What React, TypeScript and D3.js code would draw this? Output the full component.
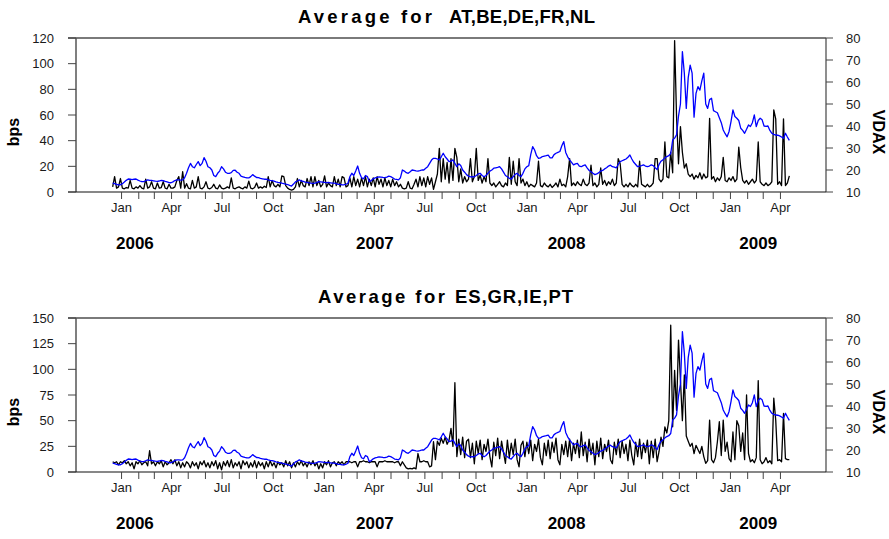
import React from "react";
import * as d3 from "d3";

// ---- data (half-weekly samples starting 2005-12-16) ----
const SERIES_START = "2005-12-16";
const STEP_DAYS = 3.5;

const VDAX = [
  14.0, 13.8, 13.5, 13.2, 13.3, 13.8, 14.5, 15.3, 15.9, 15.8,
  15.6, 15.8, 15.9, 15.4, 15.0, 14.7, 14.7, 15.1, 15.5, 15.3,
  15.3, 15.1, 14.9, 14.8, 15.0, 15.3, 15.2, 14.8, 14.6, 14.3,
  14.2, 14.6, 15.2, 15.5, 15.5, 15.4, 15.5, 16.5, 18.5, 21.0,
  23.0, 21.5, 21.0, 22.5, 23.8, 22.0, 23.0, 25.6, 24.0, 21.5,
  21.0, 20.0, 17.5, 17.0, 18.5, 19.5, 21.5, 20.5, 19.0, 18.5,
  18.5, 18.8, 19.8, 19.9, 19.0, 18.5, 17.2, 16.9, 16.6, 16.4,
  16.4, 17.0, 17.9, 17.2, 16.6, 16.5, 16.2, 16.0, 15.8, 15.8,
  15.5, 15.3, 15.2, 14.9, 14.6, 14.4, 14.3, 14.0, 13.8, 13.6,
  13.4, 13.0, 12.7, 13.6, 14.6, 15.0, 15.5, 15.0, 14.8, 14.5,
  14.4, 14.2, 14.0, 13.9, 14.0, 14.3, 14.7, 14.6, 14.5, 14.4,
  14.3, 14.4, 14.2, 14.0, 14.0, 13.8, 13.5, 13.5, 13.2, 13.3,
  13.5, 14.0, 17.0, 18.5, 17.5, 19.5, 21.8, 18.5, 16.5, 16.0,
  17.5, 17.0, 14.7, 15.2, 16.0, 16.4, 16.6, 16.9, 16.8, 16.6,
  16.5, 16.8, 17.2, 17.0, 16.5, 15.9, 15.7, 15.5, 16.5, 20.0,
  19.5, 18.8, 18.5, 19.2, 20.0, 19.8, 19.6, 19.5, 19.7, 20.0,
  20.0, 20.8, 21.5, 23.0, 24.5, 25.3, 25.3, 25.0, 24.6, 26.0,
  27.6, 26.0, 25.0, 23.8, 24.0, 24.6, 23.0, 21.5, 22.8, 22.0,
  20.0, 19.0, 17.9, 17.2, 16.9, 17.0, 16.9, 17.5, 18.2, 18.5,
  17.5, 16.9, 17.5, 18.5, 19.5, 20.0, 20.8, 21.0, 21.2, 21.5,
  20.5, 19.0, 17.5, 16.9, 16.2, 15.9, 17.0, 18.0, 18.5, 17.5,
  17.0, 18.5, 20.5, 21.5, 22.0, 27.0, 30.6, 29.1, 26.5, 25.3,
  25.5, 26.1, 26.3, 26.5, 26.8, 25.5, 25.5, 27.0, 27.6, 28.0,
  28.4, 31.0, 32.9, 28.0, 26.0, 24.6, 23.5, 22.3, 22.8, 23.0,
  21.8, 21.5, 22.0, 22.3, 21.0, 19.8, 19.2, 18.5, 17.9, 18.2,
  18.8, 19.5, 19.8, 20.5, 21.0, 21.8, 22.2, 21.5, 21.3, 21.0,
  22.5, 23.8, 24.2, 24.6, 25.0, 25.8, 26.8, 25.0, 23.5, 22.5,
  21.5, 21.8, 22.0, 22.3, 21.8, 21.5, 21.8, 22.3, 22.0, 21.0,
  20.2, 22.5, 24.0, 24.6, 25.5, 26.1, 26.5, 27.5, 33.6, 34.5,
  36.0, 44.5, 50.0, 73.8, 64.0, 48.0, 62.0, 67.7, 64.0, 44.0,
  54.8, 57.9, 56.3, 60.5, 64.0, 50.0, 48.0, 52.0, 52.6, 47.0,
  46.5, 46.0, 43.8, 41.5, 38.2, 36.5, 35.1, 37.5, 42.0, 47.3,
  44.3, 43.5, 42.5, 39.0, 38.0, 36.7, 38.5, 40.5, 39.8, 41.5,
  45.0, 39.7, 42.5, 43.5, 42.8, 40.0, 39.8, 40.0, 38.0, 36.7,
  36.2, 35.9, 35.8, 35.5, 35.0, 34.4, 36.7, 35.0, 33.5,
];

const SPREAD_CORE = [
  4, 12, 3, 4, 10.5, 3, 2.5, 3.5, 3, 9,
  3, 2.5, 4, 3, 5, 3, 2.5, 10, 3, 4,
  8, 3, 2.5, 7, 3, 3.5, 8, 3, 2.5, 6,
  3, 3, 4, 9, 12, 3, 15.8, 3, 6.5, 3,
  2.5, 9, 3, 4, 12, 3, 2.5, 4, 8, 3,
  2.5, 3.5, 6, 3, 2.5, 5.5, 3, 2.5, 3, 4,
  3, 11, 3, 2.5, 3.5, 4, 3, 2.5, 4, 3,
  8.5, 3, 2.5, 3.5, 7, 3, 4, 3, 4.5, 3.5,
  12, 4, 9, 5, 4, 6, 4, 12.5, 12, 5,
  3, 2, 1.5, 2, 4, 10.5, 4, 9, 5, 4,
  10.5, 5, 12, 4, 12, 5, 9, 4, 6, 12.6,
  4, 7, 5, 4, 12, 5, 10, 4, 12, 11,
  4, 5, 11, 4, 12, 5, 10, 4, 11, 5,
  12, 4, 10, 5, 11, 4, 12, 6, 10, 4,
  11, 5, 9, 4, 10, 5, 8, 4, 6, 3,
  2.5, 3, 8, 3, 2.5, 6, 10, 4, 12, 5,
  11, 4, 12, 6, 11, 2, 8, 14, 34, 8,
  26, 10, 23, 7, 26, 9, 34, 27, 8, 18,
  7, 12, 8, 10, 26, 8, 12, 34, 9, 13,
  7, 12, 8, 26, 7, 5, 7, 4, 6, 8,
  5, 4, 7, 5, 27, 6, 24, 8, 5, 26,
  7, 10, 5, 8, 4, 6, 5, 4, 7, 24,
  5, 4, 7, 5, 4, 6, 3.5, 5, 7, 4,
  10, 5, 6, 4, 12, 26, 5, 7, 5, 8,
  6, 5, 10, 6, 5, 7, 21, 5, 7, 4,
  6, 18.7, 6, 9, 5, 8, 6, 10, 5, 7,
  26, 22, 6, 4, 6, 4, 7, 5, 4, 6,
  4, 24, 6, 5, 4, 6, 4, 5, 7, 26,
  26, 10, 8, 10, 39, 12, 11, 31, 15, 118,
  58.7, 22, 51, 31, 18.7, 22, 14, 12, 14, 10,
  13, 11, 15, 10, 14, 11, 12, 57.4, 10, 12,
  8, 11, 9, 12, 27, 9, 8, 11, 9, 12,
  8, 10, 35, 19, 9, 7, 9, 6, 8, 10,
  7, 9, 39, 8, 6, 5, 7, 5, 6, 8,
  64, 57, 6, 8, 5, 57, 5, 7, 12.6,
];

const SPREAD_PERIPHERY = [
  10, 9, 10, 7, 10, 9, 11, 8, 10, 6,
  9, 3, 10, 8, 11, 7, 9, 10, 6, 20.7,
  8, 10, 6, 10, 8, 11, 5, 10, 7, 9,
  12, 8, 12, 6, 10, 4, 9, 5, 10, 8,
  4, 10, 6, 9, 3, 10, 7, 11, 5, 9,
  4, 10, 6, 11, 3, 9, 2, 10, 6, 11,
  5, 12, 4, 9, 6, 10, 3, 11, 7, 10,
  4, 9, 5, 11, 4, 10, 6, 9, 3, 10,
  5, 11, 6, 9, 4, 10, 7, 9, 5, 11,
  6, 10, 4, 9, 5, 10, 7, 11, 6, 9,
  5, 10, 7, 11, 6, 9, 3, 8, 4, 10,
  7, 11, 5, 9, 10, 6, 10, 8, 10, 7,
  10, 10, 10, 9, 10, 10, 5, 10, 10, 11,
  10, 10, 9, 10, 10, 10, 5, 10, 10, 10,
  11, 10, 10, 10, 10, 9, 10, 10, 6, 10,
  7, 4, 3, 3.5, 3, 4, 3, 18, 10, 10,
  11, 10, 10, 5, 6, 29.5, 12, 30, 26, 33,
  28, 34, 27, 31, 42.5, 25, 87, 15, 32, 17,
  34, 14, 30, 32, 14, 28, 8, 30, 18, 31,
  12, 27, 20, 32, 15, 5, 29, 16, 33, 13,
  30, 19, 8.5, 31, 14, 28, 17, 32, 12, 5,
  26, 30, 15, 29, 18, 31, 11, 27, 20, 32,
  14, 7, 28, 16, 31, 13, 29, 19, 33, 12,
  7, 27, 17, 30, 15, 32, 11, 28, 18, 31,
  14, 39, 16, 29, 10, 32, 17, 28, 7, 30,
  15, 33, 13, 27, 20, 31, 12, 8, 29, 17,
  32, 14, 30, 18, 27, 11, 31, 16, 7, 29,
  15, 32, 13, 28, 19, 31, 8, 30, 14, 32,
  10, 20, 34, 25, 44, 38, 50, 143, 44, 99,
  60, 128.5, 89.6, 50, 94.5, 35, 30, 25, 28, 18,
  26, 22, 18, 25, 15, 8.5, 11, 50.6, 12, 9,
  14, 29.5, 49, 16, 50.6, 20, 29, 13, 10, 39,
  12, 50, 45, 20, 38, 12, 75, 18, 10, 12,
  9, 14, 89, 12, 8, 10, 14, 9, 11, 8,
  72, 50.6, 11, 12, 10, 57, 13, 12, 12,
];

const LEFT_TICKS_CORE = [0, 20, 40, 60, 80, 100, 120];
const LEFT_TICKS_PERIPHERY = [0, 25, 50, 75, 100, 125, 150];
const RIGHT_TICKS = [10, 20, 30, 40, 50, 60, 70, 80];
const QUARTER_LABELS: Record<number, string> = { 0: "Jan", 3: "Apr", 6: "Jul", 9: "Oct" };
const YEAR_LABELS: [string, string][] = [
  ["2006", "2006-01-25"],
  ["2007", "2007-04-02"],
  ["2008", "2008-03-12"],
  ["2009", "2009-02-20"],
];
const AXIS_START = "2005-10-11";
const AXIS_END = "2009-06-22";
const FIRST_TICK = "2006-01-01";
const LAST_TICK = "2009-04-02";

const FONT = "'Liberation Sans', Arial, Helvetica, sans-serif";
const TXT = "#1a1a1a";

const parse = (s: string) => new Date(s + "T00:00:00Z");
const dateAt = (i: number) =>
  new Date(parse(SERIES_START).getTime() + i * STEP_DAYS * 86400000);

const x = d3.scaleUtc().domain([parse(AXIS_START), parse(AXIS_END)]).range([76, 826]);
const monthTicks = d3.utcMonth.range(parse(FIRST_TICK), parse(LAST_TICK));

type PanelProps = {
  off: number;
  titleA: [string, number, number];
  titleB: [string, number, number];
  leftTicks: number[];
  spread: number[];
};

function Panel({ off, titleA, titleB, leftTicks, spread }: PanelProps) {
  const top = 38 + off;
  const bottom = 192 + off;
  const yL = d3.scaleLinear().domain([leftTicks[0], leftTicks[leftTicks.length - 1]]).range([bottom, top]);
  const yR = d3.scaleLinear().domain([10, 80]).range([bottom, top]);
  const lineL = d3.line<number>().x((_, i) => x(dateAt(i))).y((d) => yL(d));
  const lineR = d3.line<number>().x((_, i) => x(dateAt(i))).y((d) => yR(d));
  const clipId = `clip${off}`;
  const midY = 132 + off;
  return (
    <g>
      <defs>
        <clipPath id={clipId}>
          <rect x={76} y={top - 2} width={750} height={bottom - top + 3} />
        </clipPath>
      </defs>
      <text x={titleA[1]} y={23 + off} fontFamily={FONT} fontWeight="bold" fontSize={18.5}
        textLength={titleA[2]} lengthAdjust="spacing" fill="#000">{titleA[0]}</text>
      <text x={titleB[1]} y={23 + off} fontFamily={FONT} fontWeight="bold" fontSize={18.5}
        textLength={titleB[2]} lengthAdjust="spacing" fill="#000">{titleB[0]}</text>

      {/* frame */}
      <line x1={68} x2={826} y1={top} y2={top} stroke="#7a7a7a" strokeWidth={2} />
      <line x1={76} x2={76} y1={top} y2={bottom} stroke="#555" strokeWidth={1.5} />
      <line x1={826} x2={826} y1={top} y2={bottom} stroke="#444" strokeWidth={1.2} />
      <line x1={68} x2={826} y1={bottom} y2={bottom} stroke="#111" strokeWidth={1.2} />

      {/* left axis */}
      {leftTicks.map((t) => (
        <g key={"l" + t}>
          <line x1={68} x2={76} y1={yL(t)} y2={yL(t)} stroke="#444" strokeWidth={1} />
          <text x={54} y={yL(t)} dy="0.36em" textAnchor="end" fontFamily={FONT} fontSize={13} fill={TXT}>{t}</text>
        </g>
      ))}
      {/* right axis */}
      {RIGHT_TICKS.map((t) => (
        <g key={"r" + t}>
          <line x1={826} x2={833} y1={yR(t)} y2={yR(t)} stroke="#444" strokeWidth={1} />
          <text x={846} y={yR(t)} dy="0.36em" textAnchor="start" fontFamily={FONT} fontSize={13} fill={TXT}>{t}</text>
        </g>
      ))}
      {/* month ticks */}
      {monthTicks.map((m) => (
        <g key={"m" + m.getTime()}>
          <line x1={x(m)} x2={x(m)} y1={bottom} y2={bottom + 7} stroke="#444" strokeWidth={1} />
          {QUARTER_LABELS[m.getUTCMonth()] !== undefined && (
            <text x={x(m)} y={212 + off} textAnchor="middle" fontFamily={FONT} fontSize={13} fill={TXT}>
              {QUARTER_LABELS[m.getUTCMonth()]}
            </text>
          )}
        </g>
      ))}
      {YEAR_LABELS.map(([lab, d]) => (
        <text key={lab} x={x(parse(d))} y={249 + off} textAnchor="middle" fontFamily={FONT}
          fontWeight="bold" fontSize={17} fill="#000">{lab}</text>
      ))}

      <text transform={`translate(19,${midY}) rotate(-90)`} textAnchor="middle" fontFamily={FONT}
        fontWeight="bold" fontSize={16} fill="#000">bps</text>
      <text transform={`translate(873,${midY}) rotate(90)`} textAnchor="middle" fontFamily={FONT}
        fontWeight="bold" fontSize={16} fill="#000">VDAX</text>

      <g clipPath={`url(#${clipId})`}>
        <path d={lineL(spread) || ""} fill="none" stroke="#000" strokeWidth={1.3} strokeLinejoin="round" />
        <path d={lineR(VDAX) || ""} fill="none" stroke="#0000ff" strokeWidth={1.3} strokeLinejoin="round" />
      </g>
    </g>
  );
}

export default function App() {
  return (
    <svg width={889} height={539} style={{ position: "absolute", left: 0, top: 0, background: "#fff" }}
      xmlns="http://www.w3.org/2000/svg">
      <rect width={889} height={539} fill="#fff" />
      <Panel off={0} titleA={["Average for", 298, 134]} titleB={["AT,BE,DE,FR,NL", 449, 146]}
        leftTicks={LEFT_TICKS_CORE} spread={SPREAD_CORE} />
      <Panel off={280} titleA={["Average for", 318, 127]} titleB={["ES,GR,IE,PT", 455, 118]}
        leftTicks={LEFT_TICKS_PERIPHERY} spread={SPREAD_PERIPHERY} />
    </svg>
  );
}
